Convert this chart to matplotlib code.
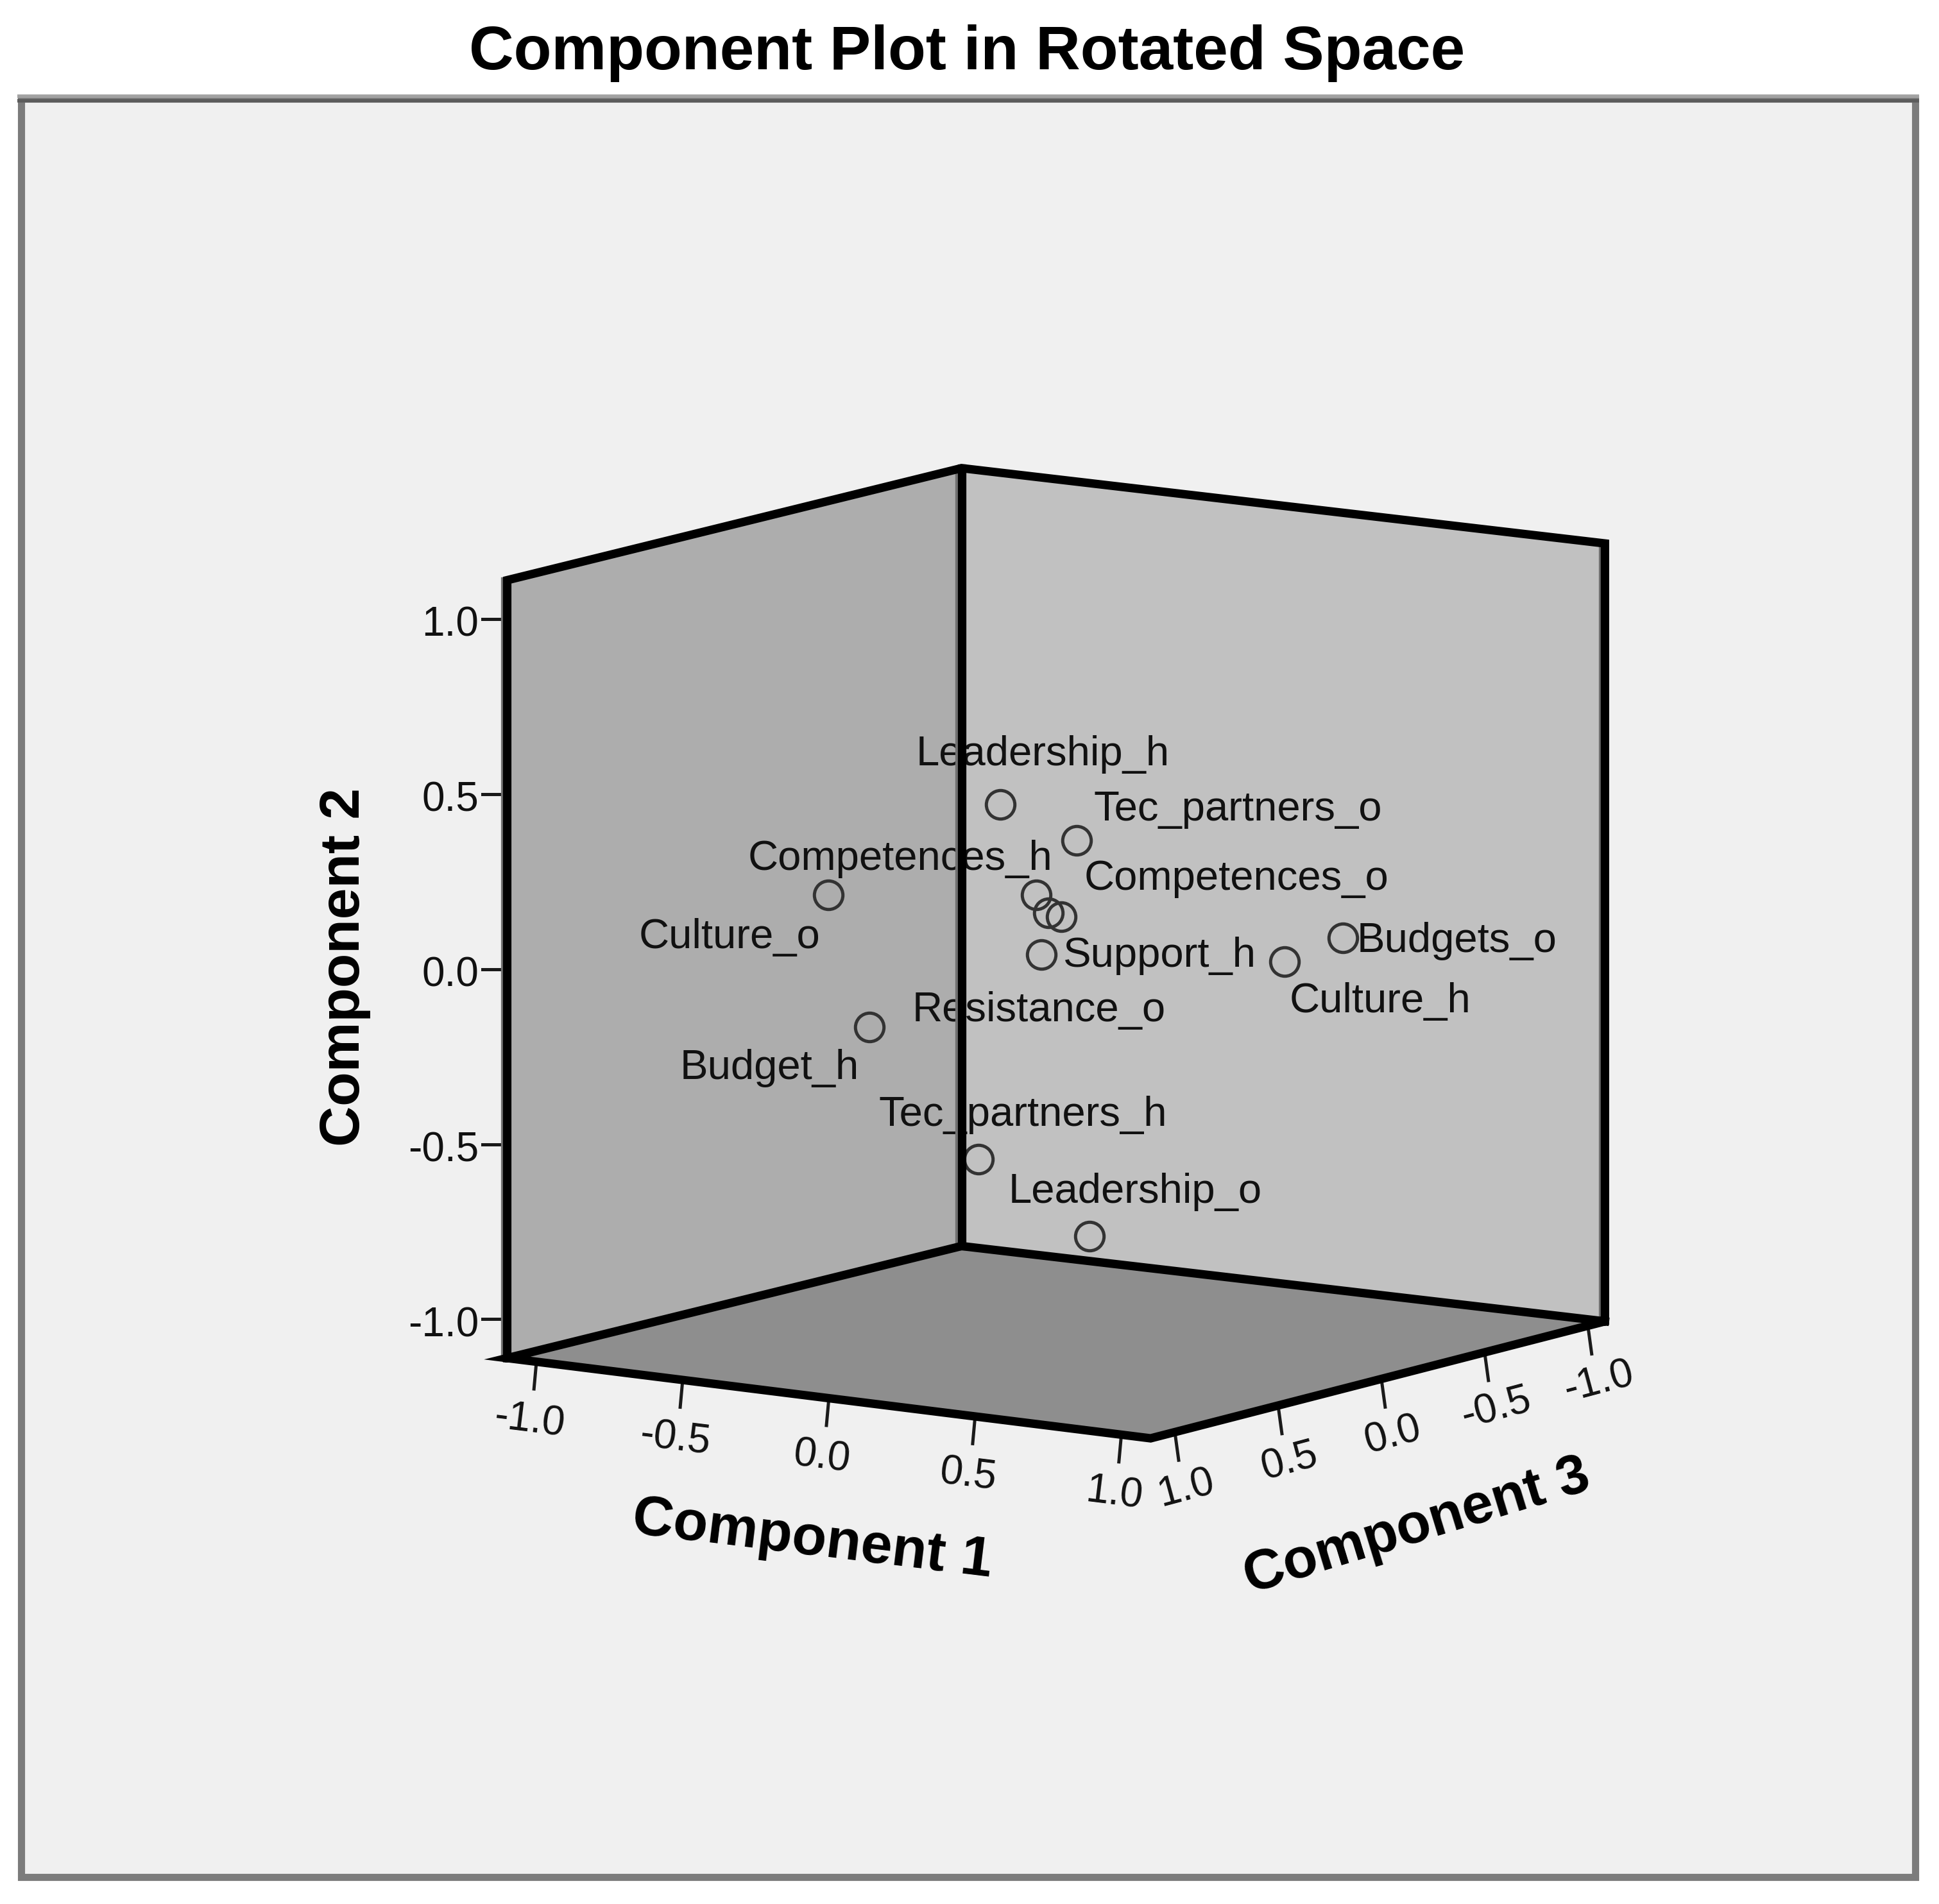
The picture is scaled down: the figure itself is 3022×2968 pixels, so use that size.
import matplotlib
matplotlib.use('Agg')
import matplotlib.pyplot as plt
import numpy as np
from matplotlib.patches import Polygon, Rectangle

plt.rcParams['font.family'] = ['Liberation Sans', 'DejaVu Sans']

# Rotated component loadings
names = ['Leadership_h', 'Tec_partners_o', 'Culture_o', 'Competences_h',
         'Competences_o', 'Resistance_o', 'Support_h', 'Budgets_o',
         'Culture_h', 'Budget_h', 'Tec_partners_h', 'Leadership_o']
comp1 = [-0.12, 0.283, -0.849, 0.074, 0.257, -0.195, 0.02, 0.557, 0.429, -0.285, -0.125, 0.185]
comp2 = [0.42, 0.389, 0.062, 0.199, 0.195, 0.036, 0.01, 0.006, -0.059, -0.167, -0.57, -0.77]
comp3 = [0.1, 0.3, -0.1, 0.2, 0.4, -0.3, 0.1, -0.6, -0.5, 0.5, 0.2, 0.1]

ticks = [-1.0, -0.5, 0.0, 0.5, 1.0]
tick_labels = ['-1.0', '-0.5', '0.0', '0.5', '1.0']
title = 'Component Plot in Rotated Space'

LIM = 1.1  # the box goes a bit past the ticks


# Fixed oblique view, same for every mark (units of the axes below)
def project(c1, c2, c3):
    x = 854 + 236.5 * c1 - 167 * c3
    # last term: the far corner sits a little lower, slight perspective
    y = 769 + 29.5 * c1 + 43 * c3 - 286 * c2 + (1 - c1 / LIM) * (1 - c3 / LIM)
    return x, y


fig = plt.figure(figsize=(30.22, 29.68), dpi=100, facecolor='white')
ax = fig.add_axes([0, 0, 1, 1])
ax.set_xlim(0, 1568)
ax.set_ylim(1540, 0)
ax.axis('off')

# Outer panel
ax.add_patch(Rectangle((17, 80), 1532, 1438, facecolor='#f0f0f0', edgecolor='#7c7c7c', lw=8, zorder=1))
ax.plot([14, 1552], [81.5, 81.5], color='#5c5c5c', lw=4, solid_capstyle='butt', zorder=1.5)
ax.plot([14, 1552], [78, 78], color='#a2a2a2', lw=4, solid_capstyle='butt', zorder=1.5)

# Walls and floor of the box
L = LIM
left_bot, left_top = project(-L, -L, L), project(-L, L, L)
back_bot, back_top = project(-L, -L, -L), project(-L, L, -L)
right_bot, right_top = project(L, -L, -L), project(L, L, -L)
front_bot = project(L, -L, L)

ax.add_patch(Polygon([left_bot, left_top, back_top, back_bot], facecolor='#adadad', zorder=2))
ax.add_patch(Polygon([back_bot, back_top, right_top, right_bot], facecolor='#c1c1c1', zorder=2))
ax.add_patch(Polygon([left_bot, back_bot, right_bot, front_bot], facecolor='#8e8e8e', zorder=2))

# grey fringe next to the upright edges
for bot, top in [(left_bot, left_top), (back_bot, back_top), (right_bot, right_top)]:
    ax.plot([bot[0] - 3, top[0] - 3], [bot[1], top[1]], color='#707070', lw=6, zorder=5.5)

edges = [[left_bot, left_top, back_top, right_top, right_bot, front_bot, left_bot, back_bot, right_bot],
         [back_bot, back_top]]
for e in edges:
    ax.plot([p[0] for p in e], [p[1] for p in e], color='black', lw=9.5,
            solid_joinstyle='miter', zorder=6)

# Ticks and tick labels
for t, lab in zip(ticks, tick_labels):
    # component 2, on the left edge
    x, y = project(-L, 0.99 * t, L)
    ax.plot([x, x - 20], [y, y], color='#1a1a1a', lw=3.6, zorder=3)
    ax.text(x - 23, y + 5, lab, ha='right', va='center', fontsize=46, color='#111111', zorder=7)
    # component 1, along the front left edge
    x, y = project(t, -L, L)
    ax.plot([x, x - 2], [y, y + 22], color='#1a1a1a', lw=3.6, zorder=3)
    ax.text(x - 6, y + 48, lab, ha='center', va='center', fontsize=46, rotation=-7,
            color='#111111', zorder=7)
    # component 3, along the front right edge
    x, y = project(L, -L, t)
    ax.plot([x + 3, x + 6], [y, y + 22], color='#1a1a1a', lw=3.6, zorder=3)
    ax.text(x + 12, y + 45, lab, ha='center', va='center', fontsize=46, rotation=15,
            color='#111111', zorder=7)

# The loadings
px, py = project(np.array(comp1), np.array(comp2), np.array(comp3))
ax.plot(px, py, 'o', ms=32, mfc='none', mec='#333333', mew=3.6, zorder=5)

# Label spots, as the original left them
label_xy = [(843, 610), (1001, 655), (590, 758), (728, 695), (1000, 711), (840, 817),
            (938, 773), (1178, 761), (1116, 810), (622, 864), (827, 902), (918, 964)]
for name, (x, y) in zip(names, label_xy):
    ax.text(x, y, name, ha='center', va='center', fontsize=47, color='#111111', zorder=5)

# Axis titles
ax.text(279, 782, 'Component 2', rotation=90, ha='center', va='center', fontsize=63,
        fontweight='bold', color='black', zorder=7)
ax.text(657, 1246, 'Component 1', rotation=-7, ha='center', va='center', fontsize=63.5,
        fontweight='bold', color='black', zorder=7)
ax.text(1146, 1235, 'Component 3', rotation=17, ha='center', va='center', fontsize=63,
        fontweight='bold', color='black', zorder=7)

ax.text(782, 43, title, ha='center', va='center', fontsize=69.4, fontweight='bold', color='black')

fig.savefig('out.png', dpi=100)
